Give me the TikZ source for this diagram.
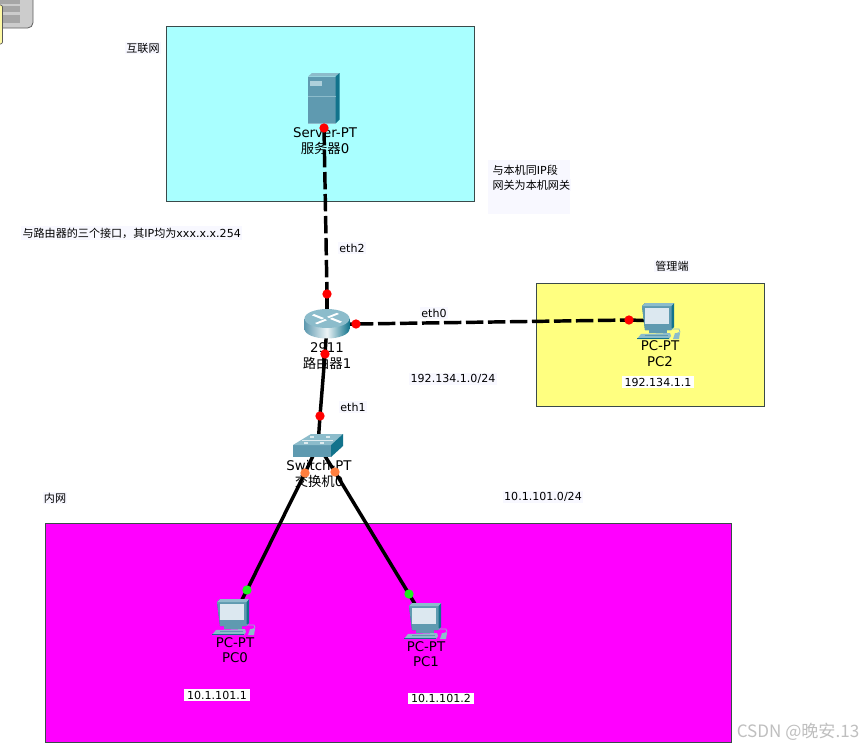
\documentclass[tikz,border=0pt]{standalone}
\usepackage{fontspec}
\setmainfont{DejaVu Sans}
\newfontfamily\cjk{Noto Sans CJK SC}
\usetikzlibrary{calc}
\pgfdeclarelayer{zones}
\pgfdeclarelayer{front}
\pgfsetlayers{zones,main,front}
\definecolor{boxline}{HTML}{3A4A4A}
\definecolor{cyanbox}{HTML}{A9FFFF}
\definecolor{yelbox}{HTML}{FFFF80}
\definecolor{magbox}{HTML}{FF00FF}
\definecolor{notebg}{HTML}{F8F8FF}
\definecolor{devfront}{HTML}{5F9AB0}
\definecolor{devtop}{HTML}{8CBCCB}
\definecolor{devside}{HTML}{12738C}
\definecolor{pcscreen}{HTML}{DCE8F0}
\definecolor{dotorange}{HTML}{FF7F3F}
\definecolor{dotgreen}{HTML}{1EF01E}
\tikzset{
  zonebox/.style={draw=boxline,line width=.75pt},
  devlabel/.style={font=\fontsize{10}{12}\selectfont,text=black,inner sep=0pt},
  note/.style={font=\fontsize{8.3}{10}\selectfont,text=black,fill=notebg,inner sep=1pt},
  notel/.style={note,anchor=west},
  iplabel/.style={font=\fontsize{8.3}{10}\selectfont,text=black,fill=white,inner xsep=2pt,inner ysep=1pt},
  devnode/.style={inner sep=0pt,minimum size=1pt},
  port/.style={circle,fill=red,inner sep=0pt,minimum size=7pt},
  portgo/.style={port,fill=dotgreen},
  portor/.style={port,fill=dotorange},
  link/.style={line width=2.6pt,black},
  dashlink/.style={link,dash pattern=on 13pt off 3.5pt},
  pcicon/.pic={
    \fill[devside] (-16,-15) -- (-13,-18) -- (16,-18) -- (16,6) -- (13,9) -- (-13,9) -- cycle;
    \fill[devfront] (-16,-15) -- (13.5,-15) -- (13.5,9) -- (-13,9) -- cycle;
    \fill[devtop] (-16,-15) -- (-13,-18) -- (16,-18) -- (13.5,-15) -- cycle;
    \fill[pcscreen] (-13,-13.5) rectangle (11,3);
    \fill[devfront] (-9,9) rectangle (9,12);
    \fill[devtop] (-21,18) -- (-17,13) -- (12,12) -- (13,15) -- (11,18) -- cycle;
    \fill[devfront] (-13,14.2) rectangle (10,15.4);
    \fill[devside] (-21,17.2) rectangle (11,18);
    \draw[devtop,line width=.5pt] (13,8) -- (21,8) -- (22,11) -- (17,13);
    \fill[devtop] (17,12) -- (22,12) -- (21,18) -- (15,18) -- cycle;
  },
  servericon/.pic={
    \fill[devfront] (-16,-23.5) rectangle (11.5,23.5);
    \fill[devtop] (-16,-23.5) -- (-12,-27) -- (15.5,-27) -- (11.5,-23.5) -- cycle;
    \fill[devside] (11.5,-23.5) -- (15.5,-27) -- (15.5,19.5) -- (11.5,23.5) -- cycle;
    \fill[devtop!70!white] (-14,-19.5) rectangle (-2,-14.5);
    \draw[devtop,line width=.4pt] (-16,-4) -- (11.5,-4);
    \draw[devtop,line width=.6pt] (-16,23.2) -- (11.5,23.2);
  },
  routericon/.pic={
    \shade[left color=devfront,right color=devside,middle color=white!85!devtop]
      (-22.5,-6.5) -- (-22.5,4) arc[start angle=180,end angle=0,x radius=22.5,y radius=9.5] -- (22.5,-6.5) -- cycle;
    \fill[devtop] (0,-6.5) ellipse[x radius=22.5,y radius=9.5];
    \fill[white] (-13,-11) -- (-3,-7) -- (-5,-5.6) -- (-15,-9.6) -- cycle;
    \fill[white] (13,-2) -- (3,-6) -- (5,-7.4) -- (15,-3.4) -- cycle;
    \fill[white] (-12,-2) -- (-2,-6) -- (0,-4.8) -- (-10,-0.8) -- cycle;
    \fill[white] (12,-11) -- (2,-7) -- (0,-8.2) -- (10,-12.2) -- cycle;
  },
  switchicon/.pic={
    \fill[devfront] (-25,0) rectangle (13,12);
    \fill[devtop] (-25,0) -- (-7,-11) -- (25,-11) -- (13,0) -- cycle;
    \fill[devside] (13,0) -- (25,-11) -- (25,1) -- (13,12) -- cycle;
    \fill[white!70!devtop] (-14,-3) rectangle (-10,-1.5);
    \fill[white!70!devtop] (-8,-9) rectangle (-4,-7.5);
    \fill[white!70!devtop] (2,-3) rectangle (6,-1.5);
    \fill[white!70!devtop] (8,-9) rectangle (12,-7.5);
    \draw[white!70!devtop,line width=.4pt] (-16,-5) -- (15,-5);
  }
}
\begin{document}
\begin{tikzpicture}[x=.75pt,y=-.75pt]
\useasboundingbox (0,0) rectangle (863,747);
\begin{pgfonlayer}{zones}
\fill[white] (0,0) rectangle (863,747);
% corner fragment
\fill[gray!40,draw=gray!75!black,line width=.6pt,rounded corners=4pt] (-8,-8) rectangle (33,28);
\fill[gray!70] (0,0) rectangle (20,4);
\fill[gray!70] (0,6) rectangle (20,12);
\fill[gray!70] (0,15) rectangle (20,23);
\fill[yellow!35!white,draw=gray!70!black,line width=.5pt,rounded corners=1.5pt] (-5,5) rectangle (2.5,44);
% zones
\fill[notebg] (488,160) rectangle (570,214);
\draw[zonebox,fill=cyanbox] (166,26) rectangle (474,201);
\draw[zonebox,fill=yelbox] (536,283) rectangle (764,406);
\draw[zonebox,fill=magbox] (45,523) rectangle (731,742);
\end{pgfonlayer}
% device anchors
\node[devnode] (server) at (324,100) {};
\node[devnode] (router) at (327,325) {};
\node[devnode] (swt) at (318,445) {};
\node[devnode] (pc2) at (658,321) {};
\node[devnode] (pc0) at (233,617) {};
\node[devnode] (pc1) at (425,621) {};
% ports
\begin{pgfonlayer}{front}
\node[port] (pS) at (324,128) {};
\node[port] (pRt) at (327,294) {};
\node[port] (pRr) at (356,324) {};
\node[port] (pP2) at (629,320) {};
\node[port] (pRb) at (325,354) {};
\node[port] (pSt) at (320,416) {};
\node[portor] (pSl) at (305,473) {};
\node[portor] (pSr) at (335,472) {};
\node[portgo] (pP0) at (247,590) {};
\node[portgo] (pP1) at (409,594) {};
\end{pgfonlayer}
% links
\draw[dashlink] (pS.center) -- (pRt.center);
\draw[link] (pRt.center) -- (router.center);
\draw[link] (router.center) -- (pRr.center);
\draw[dashlink] (pRr.center) -- (pP2.center);
\draw[link] (pP2.center) -- (pc2.center);
\draw[link] (router.center) -- (pRb.center) -- (pSt.center) -- (swt.center);
\draw[link] (swt.center) -- (pSl.center) -- (pP0.center) -- (pc0.center);
\draw[link] (swt.center) -- (pSr.center) -- (pP1.center) -- (pc1.center);
% icons
\pic at (server) {servericon};
\pic at (router) {routericon};
\pic at (swt) {switchicon};
\pic at (pc0) {pcicon};
\pic at (pc1) {pcicon};
\pic at (pc2) {pcicon};
% device labels
\node[devlabel] (lS1) at (325,132.5) {Server-PT};
\node[devlabel] (lS2) at (325,148) {{\cjk 服务器}0};
\node[devlabel] (lR1) at (327,347.5) {2911};
\node[devlabel] (lR2) at (327,363) {{\cjk 路由器}1};
\node[devlabel] (lW1) at (319,465.5) {Switch-PT};
\node[devlabel] (lW2) at (319,481) {{\cjk 交换机}0};
\node[devlabel] (lP0a) at (235,642.5) {PC-PT};
\node[devlabel] (lP0b) at (235,658) {PC0};
\node[devlabel] (lP1a) at (426,646.5) {PC-PT};
\node[devlabel] (lP1b) at (426,662) {PC1};
\node[devlabel] (lP2a) at (660,346) {PC-PT};
\node[devlabel] (lP2b) at (660,362) {PC2};
% notes
\node[note] (nInt) at (143,48) {\cjk 互联网};
\node[notel] (nSame) at (491,170) {{\cjk 与本机同}IP{\cjk 段}};
\node[notel] (nGw) at (491,185) {\cjk 网关为本机网关};
\node[notel] (nIf) at (21,233) {{\cjk 与路由器的三个接口，其}IP{\cjk 均为}xxx.x.x.254};
\node[note] (nEth2) at (352,248) {eth2};
\node[note] (nEth0) at (434,313) {eth0};
\node[note] (nEth1) at (353,407) {eth1};
\node[note] (nMgr) at (672,266) {\cjk 管理端};
\node[note] (nNet1) at (453,379) {192.134.1.0/24};
\node[note] (nNet2) at (543,497) {10.1.101.0/24};
\node[note] (nIn) at (55,498) {\cjk 内网};
\node[iplabel] (ip2) at (658,382) {192.134.1.1};
\node[iplabel] (ip0) at (217,695) {10.1.101.1};
\node[iplabel] (ip1) at (441,698.5) {10.1.101.2};
\node[font=\fontsize{12.8}{14}\cjk,text=gray!50,inner sep=0pt] (wm) at (798,732) {CSDN @晚安.13};
\end{tikzpicture}
\end{document}
